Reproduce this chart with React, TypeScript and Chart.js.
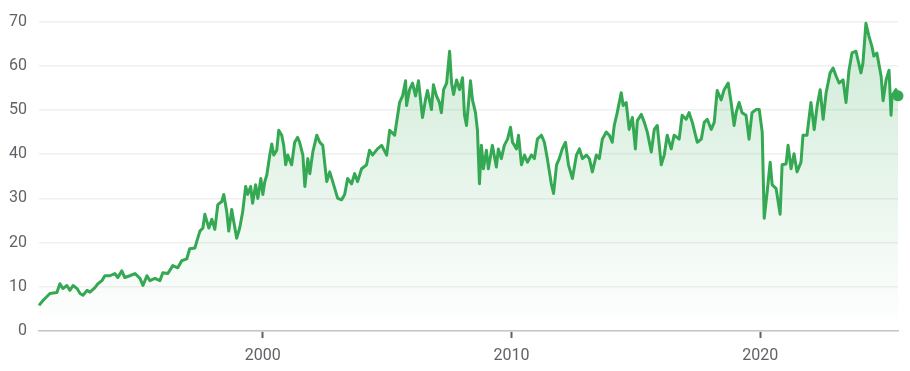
import React, { useEffect, useRef } from "react";
import { Chart, registerables } from "chart.js";

Chart.register(...registerables);

const years: number[] = [
  1991.0, 1991.16, 1991.44, 1991.72, 1991.84, 1991.96, 1992.12, 1992.24, 1992.37, 1992.53,
  1992.65, 1992.77, 1992.93, 1993.05, 1993.25, 1993.37, 1993.53, 1993.65, 1993.85, 1994.05,
  1994.17, 1994.33, 1994.45, 1994.65, 1994.86, 1995.06, 1995.18, 1995.34, 1995.46, 1995.66,
  1995.86, 1995.98, 1996.18, 1996.38, 1996.58, 1996.74, 1996.94, 1997.06, 1997.27, 1997.35,
  1997.47, 1997.59, 1997.67, 1997.75, 1997.83, 1997.95, 1998.07, 1998.19, 1998.35, 1998.43,
  1998.55, 1998.63, 1998.75, 1998.83, 1998.95, 1999.07, 1999.19, 1999.31, 1999.39, 1999.51,
  1999.59, 1999.71, 1999.8, 1999.92, 2000.0, 2000.08, 2000.16, 2000.28, 2000.36, 2000.44,
  2000.56, 2000.64, 2000.76, 2000.84, 2000.92, 2001.0, 2001.16, 2001.28, 2001.4, 2001.48,
  2001.61, 2001.69, 2001.81, 2001.89, 2002.01, 2002.17, 2002.29, 2002.41, 2002.57, 2002.69,
  2002.81, 2003.01, 2003.17, 2003.29, 2003.41, 2003.57, 2003.69, 2003.81, 2003.97, 2004.17,
  2004.29, 2004.41, 2004.61, 2004.78, 2004.98, 2005.1, 2005.3, 2005.5, 2005.62, 2005.74,
  2005.78, 2005.9, 2006.02, 2006.14, 2006.26, 2006.42, 2006.54, 2006.62, 2006.78, 2006.86,
  2006.98, 2007.1, 2007.18, 2007.27, 2007.39, 2007.51, 2007.59, 2007.67, 2007.79, 2007.91,
  2008.03, 2008.11, 2008.19, 2008.35, 2008.43, 2008.55, 2008.63, 2008.71, 2008.79, 2008.87,
  2008.99, 2009.07, 2009.23, 2009.39, 2009.47, 2009.59, 2009.71, 2009.84, 2009.96, 2010.04,
  2010.2, 2010.28, 2010.4, 2010.52, 2010.64, 2010.8, 2010.92, 2011.04, 2011.2, 2011.32,
  2011.44, 2011.6, 2011.69, 2011.81, 2011.92, 2012.04, 2012.17, 2012.29, 2012.45, 2012.61,
  2012.73, 2012.85, 2013.01, 2013.13, 2013.25, 2013.41, 2013.53, 2013.65, 2013.81, 2013.93,
  2014.05, 2014.13, 2014.25, 2014.41, 2014.49, 2014.61, 2014.73, 2014.86, 2014.98, 2015.06,
  2015.22, 2015.34, 2015.46, 2015.62, 2015.74, 2015.86, 2016.02, 2016.14, 2016.26, 2016.42,
  2016.54, 2016.74, 2016.86, 2017.02, 2017.14, 2017.27, 2017.47, 2017.63, 2017.75, 2017.87,
  2018.03, 2018.15, 2018.27, 2018.43, 2018.55, 2018.71, 2018.83, 2018.95, 2019.03, 2019.15,
  2019.27, 2019.43, 2019.55, 2019.67, 2019.84, 2019.96, 2020.08, 2020.16, 2020.28, 2020.4,
  2020.48, 2020.64, 2020.8, 2020.88, 2021.04, 2021.12, 2021.24, 2021.36, 2021.48, 2021.64,
  2021.72, 2021.88, 2022.04, 2022.17, 2022.29, 2022.41, 2022.53, 2022.65, 2022.81, 2022.93,
  2023.05, 2023.17, 2023.33, 2023.45, 2023.57, 2023.69, 2023.85, 2024.05, 2024.13, 2024.25,
  2024.37, 2024.49, 2024.57, 2024.69, 2024.86, 2024.94, 2025.06, 2025.18, 2025.26, 2025.3,
  2025.46, 2025.54,
];

const prices: number[] = [
  5.8, 6.9, 8.5, 8.7, 10.7, 9.6, 10.3, 9.2, 10.3, 9.6,
  8.5, 8.1, 9.2, 8.8, 9.8, 10.7, 11.4, 12.5, 12.5, 13.0,
  12.1, 13.6, 12.1, 12.5, 13.0, 11.9, 10.3, 12.5, 11.4, 11.9,
  11.4, 13.2, 13.0, 14.8, 14.3, 15.9, 16.3, 18.6, 18.8, 20.4,
  22.6, 23.3, 26.4, 24.8, 23.3, 25.3, 23.0, 28.6, 29.3, 30.9,
  27.0, 22.6, 27.5, 24.8, 21.0, 23.3, 27.0, 32.7, 30.9, 32.7,
  28.9, 33.1, 30.0, 34.5, 30.9, 33.8, 35.3, 39.8, 42.3, 39.8,
  40.9, 45.4, 44.3, 42.0, 37.6, 39.8, 37.6, 42.7, 43.8, 42.7,
  39.8, 32.7, 39.0, 35.6, 40.5, 44.3, 42.7, 42.0, 33.8, 36.0,
  33.8, 30.0, 29.7, 30.9, 34.5, 33.3, 35.6, 33.8, 36.7, 37.6,
  40.9, 39.8, 41.2, 42.0, 39.8, 45.4, 44.3, 51.7, 53.2, 56.6,
  51.0, 54.6, 56.1, 53.2, 56.6, 48.3, 52.3, 54.4, 50.1, 55.7,
  53.2, 51.7, 49.4, 54.6, 56.1, 63.3, 56.1, 53.5, 56.8, 54.6,
  57.3, 48.8, 46.5, 56.6, 52.3, 49.4, 45.4, 33.3, 42.0, 36.7,
  40.9, 36.7, 42.0, 37.1, 41.2, 39.0, 42.0, 43.4, 46.1, 42.7,
  41.2, 44.3, 37.6, 39.8, 38.2, 39.8, 39.0, 43.4, 44.3, 42.7,
  39.0, 33.3, 31.1, 37.6, 39.0, 41.2, 42.7, 37.6, 34.5, 39.8,
  41.2, 39.0, 39.8, 39.0, 36.0, 39.8, 39.0, 43.4, 45.0, 44.3,
  42.7, 46.5, 49.4, 53.9, 51.0, 51.7, 45.6, 48.3, 41.2, 47.6,
  49.0, 47.2, 45.0, 40.5, 45.6, 46.5, 37.6, 39.8, 44.3, 41.2,
  44.3, 43.4, 48.8, 47.9, 49.4, 47.2, 42.7, 43.4, 47.2, 47.9,
  45.6, 47.2, 54.4, 52.3, 54.6, 56.1, 51.7, 46.5, 49.4, 51.7,
  49.4, 48.8, 43.4, 49.4, 50.1, 50.1, 45.0, 25.5, 31.5, 38.2,
  33.1, 32.2, 26.4, 37.6, 37.8, 42.0, 36.7, 40.1, 36.0, 38.2,
  44.3, 44.3, 51.7, 45.6, 51.0, 54.6, 47.9, 53.9, 58.4, 59.5,
  57.7, 56.1, 56.8, 51.7, 59.0, 62.9, 63.3, 58.4, 60.6, 69.6,
  66.7, 64.4, 62.2, 62.9, 57.7, 52.1, 56.8, 59.0, 48.8, 53.2,
  54.6, 53.2,
];

const xTicks: number[] = [2000, 2010, 2020];
const yTicks: number[] = [0, 10, 20, 30, 40, 50, 60, 70];

const GREEN = "#34a853";
const FONT = "Roboto, Arial, sans-serif";

export default function App() {
  const canvasRef = useRef<HTMLCanvasElement | null>(null);

  useEffect(() => {
    const canvas = canvasRef.current;
    if (!canvas) return;
    const last = prices.length - 1;
    const chart = new Chart(canvas, {
      type: "line",
      data: {
        datasets: [
          {
            data: years.map((x, i) => ({ x, y: prices[i] })),
            borderColor: GREEN,
            borderWidth: 3,
            borderJoinStyle: "round",
            tension: 0,
            fill: "origin",
            backgroundColor: (ctx: any) => {
              const area = ctx.chart.chartArea;
              if (!area) return "rgba(52,168,83,0.1)";
              const g = ctx.chart.ctx.createLinearGradient(0, area.top, 0, area.bottom);
              g.addColorStop(0, "rgba(52,168,83,0.24)");
              g.addColorStop(1, "rgba(52,168,83,0.0)");
              return g;
            },
            pointRadius: (ctx: any) => (ctx.dataIndex === last ? 5.5 : 0),
            pointBackgroundColor: GREEN,
            pointBorderWidth: 0,
            pointHoverRadius: 0,
            clip: false as any,
          },
        ],
      },
      options: {
        animation: false,
        responsive: true,
        maintainAspectRatio: false,
        layout: { padding: { left: 0, right: 12, top: 18, bottom: 0 } },
        plugins: { legend: { display: false }, tooltip: { enabled: false } },
        scales: {
          x: {
            type: "linear",
            min: 1991,
            max: 2025.54,
            afterBuildTicks: (scale: any) => {
              scale.ticks = xTicks.map((v) => ({ value: v }));
            },
            afterFit: (scale: any) => {
              scale.height = 40;
            },
            ticks: {
              callback: (v: any) => String(v),
              color: "#5f6368",
              font: { family: FONT, size: 16 },
              padding: 8,
              maxRotation: 0,
              autoSkip: false,
            },
            grid: {
              drawOnChartArea: false,
              drawTicks: true,
              tickLength: 7,
              tickColor: "#5f6368",
              tickWidth: 2,
            },
            border: { display: true, color: "#c4c7c5", width: 1.5 },
          },
          y: {
            min: 0,
            max: 70,
            afterBuildTicks: (scale: any) => {
              scale.ticks = yTicks.map((v) => ({ value: v }));
            },
            afterFit: (scale: any) => {
              scale.width = 39;
            },
            ticks: {
              color: "#5f6368",
              font: { family: FONT, size: 16 },
              padding: 12,
            },
            grid: {
              drawTicks: false,
              color: "#f0f0f0",
              lineWidth: 1.5,
            },
            border: { display: false },
          },
        },
      },
    });
    return () => chart.destroy();
  }, []);

  return (
    <div style={{ position: "fixed", left: 0, top: 0, width: 910, height: 371, background: "#fff" }}>
      <canvas ref={canvasRef} />
    </div>
  );
}
